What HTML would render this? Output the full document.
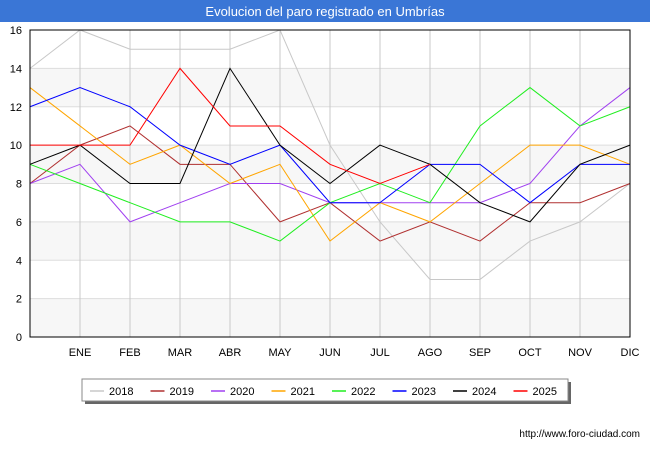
<!DOCTYPE html>
<html><head><meta charset="utf-8"><style>
body{margin:0;width:650px;height:450px;background:#fff;font-family:"Liberation Sans",sans-serif;overflow:hidden}
</style></head><body>
<svg id="c" width="650" height="450" xmlns="http://www.w3.org/2000/svg">
<rect x="0" y="0" width="650" height="22" fill="#3a76d6"/>
<text x="325" y="16" text-anchor="middle" fill="#fff" font-size="13">Evolucion del paro registrado en Umbrías</text>
<g id="grid"></g><g id="lines"></g><g id="axes"></g>
<g>
<rect x="85" y="382" width="486" height="22" fill="#666"/>
<rect x="82" y="379" width="486" height="22" fill="#fff" stroke="#888"/>
<g id="leg"></g></g>
<text x="640" y="437" text-anchor="end" font-size="10" fill="#000">http://www.foro-ciudad.com</text>
</svg>
<script>
const months=["","ENE","FEB","MAR","ABR","MAY","JUN","JUL","AGO","SEP","OCT","NOV","DIC"];
const yTicks=[0,2,4,6,8,10,12,14,16];
const years=["2018","2019","2020","2021","2022","2023","2024","2025"];
const colors=["#c8c8c8","#b03030","#a040f0","#ffa500","#20ee20","#0000ff","#000000","#ff0000"];
const s2018=[14,16,15,15,15,16,10,6,3,3,5,6,8];
const s2019=[8,10,11,9,9,6,7,5,6,5,7,7,8];
const s2020=[8,9,6,7,8,8,7,7,7,7,8,11,13];
const s2021=[13,11,9,10,8,9,5,7,6,8,10,10,9];
const s2022=[9,8,7,6,6,5,7,8,7,11,13,11,12];
const s2023=[12,13,12,10,9,10,7,7,9,9,7,9,9];
const s2024=[9,10,8,8,14,10,8,10,9,7,6,9,10];
const s2025=[10,10,10,14,11,11,9,8,9];
const series=[s2018,s2019,s2020,s2021,s2022,s2023,s2024,s2025];
const L=30,R=630,T=30,B=337,NS="http://www.w3.org/2000/svg";
const x=i=>L+i*(R-L)/12, y=v=>B-v*(B-T)/16;
function mk(p,t,a){const e=document.createElementNS(NS,t);for(const k in a)e.setAttribute(k,a[k]);document.getElementById(p).appendChild(e);return e;}
for(let v=0;v<16;v+=4){const r=mk("grid","rect",{x:L,y:y(v+2),width:R-L,height:y(v)-y(v+2),fill:"#f7f7f7"});

}
yTicks.forEach(v=>{const l=mk("grid","line",{x1:L,x2:R,y1:y(v),y2:y(v),stroke:"#ddd"});


const t=mk("axes","text",{x:22,y:y(v)+4,"text-anchor":"end","font-size":"11"});t.textContent=v;

});
months.forEach((m,i)=>{if(i>0){const l=mk("grid","line",{x1:x(i),x2:x(i),y1:T,y2:B,stroke:"#c8c8c8"});

}
const t=mk("axes","text",{x:x(i),y:356,"text-anchor":"middle","font-size":"11"});t.textContent=m;

});
const fr=mk("axes","rect",{x:L,y:T,width:R-L,height:B-T,fill:"none",stroke:"#000"});


series.forEach((s,k)=>{const p=mk("lines","polyline",{points:s.map((v,i)=>x(i)+","+y(v)).join(" "),fill:"none",stroke:colors[k],"stroke-width":"1"});


const lx=90+k*60.5;
const ll=mk("leg","line",{x1:lx,x2:lx+14,y1:391,y2:391,stroke:colors[k],"stroke-width":"1.5"});


const t=mk("leg","text",{x:lx+19,y:395,"font-size":"11"});t.textContent=years[k];

});
</script>
</body></html>
